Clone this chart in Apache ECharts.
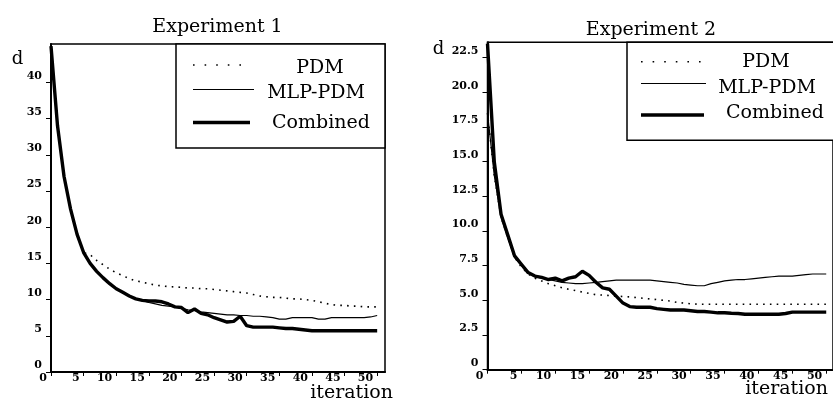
<!DOCTYPE html>
<html><head><meta charset="utf-8">
<script src="https://cdn.jsdelivr.net/npm/echarts@6/dist/echarts.min.js"></script>
<style>html,body{margin:0;padding:0;background:#fff}#c{width:833px;height:403px}</style>
</head><body><div id="c"></div>
<script>
// ---- data ----
const iterations = [0,1,2,3,4,5,6,7,8,9,10,11,12,13,14,15,16,17,18,19,20,21,22,23,24,25,26,27,28,29,30,31,32,33,34,35,36,37,38,39,40,41,42,43,44,45,46,47,48,49,50];
const seriesNames = ['PDM', 'MLP-PDM', 'Combined'];
const chartTitles = ['Experiment 1', 'Experiment 2'];
const xTicks = [0,5,10,15,20,25,30,35,40,45,50];
const yTicks1 = [0,5,10,15,20,25,30,35,40];
const yTicks2 = [0,2.5,5,7.5,10,12.5,15,17.5,20,22.5];

// Experiment 1
const exp1PDM = [45,34,27,22.5,19.0,16.5,16.2,15.4,14.8,14.2,13.7,13.3,12.9,12.6,12.4,12.2,12.0,11.9,11.8,11.75,11.7,11.6,11.6,11.5,11.5,11.4,11.3,11.2,11.1,11.0,10.9,10.7,10.5,10.4,10.3,10.3,10.2,10.1,10.1,10.0,9.9,9.7,9.5,9.3,9.2,9.2,9.1,9.1,9.0,9.0,9.0];
const exp1MLP = [45,34,27,22.5,19.0,16.5,15.0,13.9,13.0,12.2,11.5,11.0,10.5,10.1,9.9,9.6,9.4,9.2,9.1,9.0,8.8,8.6,8.5,8.3,8.2,8.1,8.0,7.9,7.9,7.8,7.8,7.7,7.7,7.6,7.5,7.3,7.3,7.5,7.5,7.5,7.5,7.3,7.3,7.5,7.5,7.5,7.5,7.5,7.5,7.6,7.8];
const exp1Comb = [45,34,27,22.5,19.0,16.5,15.0,13.9,13.0,12.2,11.5,11.0,10.5,10.1,9.9,9.8,9.8,9.7,9.4,9.0,8.9,8.2,8.7,8.1,7.9,7.5,7.2,6.9,7.0,7.7,6.4,6.2,6.2,6.2,6.2,6.1,6.0,6.0,5.9,5.8,5.7,5.7,5.7,5.7,5.7,5.7,5.7,5.7,5.7,5.7,5.7];

// Experiment 2
const exp2PDM = [18.5,14.0,11.0,9.5,8.1,7.4,6.9,6.6,6.4,6.2,6.05,5.9,5.8,5.7,5.6,5.5,5.4,5.38,5.35,5.3,5.28,5.25,5.2,5.15,5.1,5.05,5.0,4.95,4.85,4.8,4.75,4.72,4.72,4.72,4.72,4.72,4.72,4.72,4.72,4.72,4.72,4.72,4.72,4.72,4.72,4.72,4.72,4.72,4.72,4.72,4.72];
const exp2MLP = [18.5,14.0,11.0,9.5,8.1,7.5,6.95,6.7,6.6,6.5,6.4,6.3,6.25,6.2,6.2,6.25,6.3,6.35,6.4,6.45,6.45,6.45,6.45,6.45,6.45,6.4,6.35,6.3,6.25,6.15,6.1,6.05,6.05,6.2,6.3,6.4,6.45,6.5,6.5,6.55,6.6,6.65,6.7,6.75,6.75,6.75,6.8,6.85,6.9,6.9,6.9];
const exp2Comb = [23.5,15.0,11.2,9.7,8.2,7.6,7.0,6.75,6.65,6.5,6.6,6.4,6.6,6.7,7.1,6.8,6.3,5.9,5.8,5.3,4.8,4.55,4.5,4.5,4.5,4.4,4.35,4.3,4.3,4.3,4.25,4.2,4.2,4.15,4.1,4.1,4.07,4.05,4.0,4.0,4.0,4.0,4.0,4.0,4.05,4.15,4.15,4.15,4.15,4.15,4.15];

// ---- chart ----
const FONT = 'DejaVu Serif';
const pairs = arr => iterations.map((x, i) => [x, arr[i]]);
const lineStyles = [
  {color:'#000', width:1.6, type:[1.6,5.2], cap:'butt'},
  {color:'#000', width:1.2},
  {color:'#000', width:3.4}
];

function xAxisFor(g, max) {
  return {
    gridIndex: g, type: 'value', min: 0, max: max,
    axisLine: {show: true, onZero: false, lineStyle: {color: '#000', width: 2}},
    axisTick: {show: true, length: 4, customValues: xTicks, lineStyle: {color: '#000', width: 1}},
    axisLabel: {customValues: xTicks, align: 'right', verticalAlign: 'top', margin: 1,
      padding: [0, 4, 0, 0], fontFamily: FONT, fontWeight: 'bold', fontSize: 11, color: '#000'},
    splitLine: {show: false}
  };
}
function yAxisFor(g, max, ticks, fmt) {
  return {
    gridIndex: g, type: 'value', min: 0, max: max,
    axisLine: {show: true, onZero: false, lineStyle: {color: '#000', width: 2}},
    axisTick: {show: true, length: 5, customValues: ticks, lineStyle: {color: '#000', width: 1}},
    axisLabel: {customValues: ticks, align: 'right', verticalAlign: 'bottom', margin: 9,
      padding: [0, 0, 1, 0], formatter: fmt, fontFamily: FONT, fontWeight: 'bold', fontSize: 11, color: '#000'},
    splitLine: {show: false}
  };
}

const data1 = [exp1PDM, exp1MLP, exp1Comb];
const data2 = [exp2PDM, exp2MLP, exp2Comb];
const series = [];
[data1, data2].forEach((set, g) => {
  set.forEach((arr, k) => {
    series.push({
      name: seriesNames[k], type: 'line', xAxisIndex: g, yAxisIndex: g,
      data: pairs(arr), showSymbol: false, symbol: 'none', smooth: false,
      lineStyle: lineStyles[k], z: 2 + k, animation: false
    });
  });
});

function legendBox(box, lines, texts) {
  const els = [{type: 'rect', shape: box, style: {fill: '#fff', stroke: '#000', lineWidth: 1.5}, z: 100}];
  seriesNames.forEach((n, k) => {
    const ls = lineStyles[k];
    els.push({type: 'line', shape: lines[k], z: 101,
      style: {stroke: '#000', lineWidth: k === 0 ? 1.6 : ls.width, lineDash: k === 0 ? [1.6, 10] : null}});
    els.push({type: 'text', x: texts[k][0], y: texts[k][1], z: 101,
      style: {text: n, fontFamily: FONT, fontSize: 19, fill: '#000', align: 'center', verticalAlign: 'middle'}});
  });
  return els;
}

const graphic = [].concat(
  legendBox({x: 176, y: 44, width: 209, height: 104},
    [{x1:193,y1:65,x2:250,y2:65},{x1:193,y1:89.5,x2:254,y2:89.5},{x1:193,y1:122.5,x2:250,y2:122.5}],
    [[320,68],[316,93],[321,123.5]]),
  legendBox({x: 627, y: 42.3, width: 230, height: 98},
    [{x1:641,y1:61.7,x2:704,y2:61.7},{x1:641,y1:83.5,x2:706,y2:83.5},{x1:641,y1:115,x2:704,y2:115}],
    [[766,62],[767,88],[775,113.5]]),
  [
    {type:'text', x:217.5, y:27, style:{text:chartTitles[0], fontFamily:FONT, fontSize:19, fill:'#000', align:'center', verticalAlign:'middle'}},
    {type:'text', x:651, y:30, style:{text:chartTitles[1], fontFamily:FONT, fontSize:19, fill:'#000', align:'center', verticalAlign:'middle'}},
    {type:'text', x:17.5, y:59, style:{text:'d', fontFamily:FONT, fontSize:18, fill:'#000', align:'center', verticalAlign:'middle'}},
    {type:'text', x:438.5, y:49, style:{text:'d', fontFamily:FONT, fontSize:18, fill:'#000', align:'center', verticalAlign:'middle'}},
    {type:'text', x:393, y:393, style:{text:'iteration', fontFamily:FONT, fontSize:19, fill:'#000', align:'right', verticalAlign:'middle'}},
    {type:'text', x:828, y:389, style:{text:'iteration', fontFamily:FONT, fontSize:19, fill:'#000', align:'right', verticalAlign:'middle'}}
  ]
);

const chart = echarts.init(document.getElementById('c'), null, {renderer: 'canvas'});
chart.setOption({
  backgroundColor: '#fff',
  animation: false,
  grid: [
    {left: 51, top: 44, width: 334, height: 328, show: true, borderColor: '#000', borderWidth: 1.5, backgroundColor: 'transparent'},
    {left: 487.5, top: 42.3, width: 353, height: 327.4, show: true, borderColor: '#000', borderWidth: 1.5, backgroundColor: 'transparent'}
  ],
  xAxis: [xAxisFor(0, 51.2), xAxisFor(1, 51)],
  yAxis: [
    yAxisFor(0, 45.3, yTicks1, v => String(v)),
    yAxisFor(1, 23.6, yTicks2, v => v === 0 ? '0' : v.toFixed(1))
  ],
  series: series,
  graphic: graphic
});
</script>
</body></html>
